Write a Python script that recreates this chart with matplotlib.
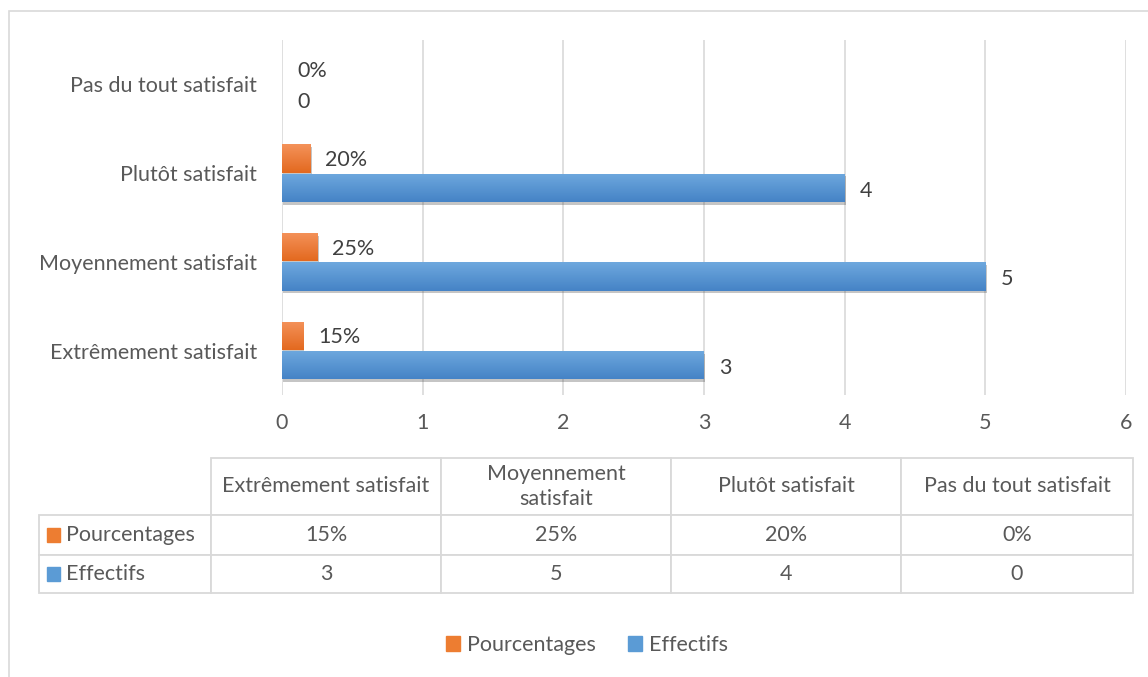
import numpy as np
import matplotlib
matplotlib.use("Agg")
import matplotlib.pyplot as plt
import matplotlib.patheffects as pe
from matplotlib.colors import LinearSegmentedColormap
from matplotlib.patches import Rectangle, Patch

# Données
categories = ["Extrêmement satisfait", "Moyennement satisfait", "Plutôt satisfait", "Pas du tout satisfait"]
entetes_table = ["Extrêmement satisfait", "Moyennement\nsatisfait", "Plutôt satisfait", "Pas du tout satisfait"]
effectifs = [3, 5, 4, 0]
pourcentages = [0.15, 0.25, 0.20, 0.0]
series = ["Pourcentages", "Effectifs"]
graduations = [0, 1, 2, 3, 4, 5, 6]

plt.rcParams["font.family"] = ["Lato", "DejaVu Sans"]
TAILLE = 15.5
GRIS_TEXTE = "#595959"
GRIS_LIGNE = "#D9D9D9"
BLEU = "#5B9BD5"
ORANGE = "#ED7D31"

W, H = 1148, 677
fig = plt.figure(figsize=(W / 100, H / 100), dpi=100)


def fig_box(x0, y0, x1, y1):
    # pixels (origine en haut à gauche) -> coordonnées figure
    return [x0 / W, 1 - y1 / H, (x1 - x0) / W, (y1 - y0) / H]


# cadre du graphique
fig.patches.append(Rectangle((9 / W, -0.05), 1.2, 1 - 11 / H + 0.05, transform=fig.transFigure,
                             fill=False, edgecolor=GRIS_LIGNE, linewidth=1.2))

ax = fig.add_axes(fig_box(282, 40, 1126, 395))
y = np.arange(len(categories))
h = 0.32
barres_eff = ax.barh(y - 0.165, effectifs, height=h, color=BLEU, zorder=2)
barres_pct = ax.barh(y + 0.165, pourcentages, height=h, color=ORANGE, zorder=2)


def degrade(barres, haut, bas):
    cmap = LinearSegmentedColormap.from_list("g", [haut, bas])
    grad = np.linspace(0, 1, 64).reshape(-1, 1)
    for b in barres:
        b.set_path_effects([pe.SimplePatchShadow(offset=(1, -2), alpha=0.3, shadow_rgbFace="#404040"),
                            pe.Normal()])
        if b.get_width() <= 0:
            b.set_visible(False)
            continue
        x0, y0 = b.get_x(), b.get_y()
        im = ax.imshow(grad, extent=[x0, x0 + b.get_width(), y0, y0 + b.get_height()],
                       aspect="auto", cmap=cmap, origin="upper", zorder=3)
        im.set_clip_path(b)


degrade(barres_eff, "#6EA8DE", "#4583C6")
degrade(barres_pct, "#F4925A", "#E3691F")

for b, v in zip(barres_eff, effectifs):
    ax.annotate(f"{v}", (b.get_width(), b.get_y() + b.get_height() / 2), xytext=(11, -2),
                textcoords="offset points", va="center", ha="left", fontsize=TAILLE, color="#404040")
for b, v in zip(barres_pct, pourcentages):
    ax.annotate(f"{v:.0%}", (b.get_width(), b.get_y() + b.get_height() / 2), xytext=(11, -1),
                textcoords="offset points", va="center", ha="left", fontsize=TAILLE, color="#404040")

ax.set_xlim(graduations[0], graduations[-1])
ax.set_ylim(-0.5, len(categories) - 0.5)
ax.set_xticks(graduations)
ax.set_yticks(y)
ax.set_yticklabels(categories)
ax.grid(axis="x", color=GRIS_LIGNE, linewidth=1.2, zorder=0)
ax.set_axisbelow(True)
ax.tick_params(length=0, labelcolor=GRIS_TEXTE, labelsize=TAILLE)
ax.tick_params(axis="x", pad=13)
ax.tick_params(axis="y", pad=18)
for s in ax.spines.values():
    s.set_visible(False)

# tableau de données
axt = fig.add_axes(fig_box(39, 458, 1133, 593))
axt.axis("off")
lignes = [[""] + entetes_table,
          [""] + [f"{v:.0%}" for v in pourcentages],
          [""] + [f"{v}" for v in effectifs]]
larg = np.array([172, 230, 230, 230, 232], float)
haut = np.array([57, 40, 38], float)
tab = axt.table(cellText=lignes, cellLoc="center", colWidths=list(larg / larg.sum()),
                bbox=[0, 0, 1, 1])
tab.auto_set_font_size(False)
for (r, c), cell in tab.get_celld().items():
    cell.set_height(haut[r] / haut.sum())
    cell.set_edgecolor(GRIS_LIGNE)
    cell.set_linewidth(1.3)
    cell.get_text().set_color(GRIS_TEXTE)
    cell.get_text().set_fontsize(TAILLE)
    cell.get_text().set_linespacing(1.35)
tab[0, 0].visible_edges = ""

# libellés de séries dans le tableau
for i, (nom, coul) in enumerate(zip(series, [ORANGE, BLEU])):
    yc = (38 + 20) / haut.sum() if i == 0 else 19 / haut.sum()
    axt.add_patch(Rectangle((8 / 1094, yc - 7 / 135), 13 / 1094, 14 / 135, color=coul,
                            transform=axt.transAxes, clip_on=False))
    axt.text(27 / 1094, yc, nom, transform=axt.transAxes, va="center", ha="left",
             fontsize=TAILLE, color=GRIS_TEXTE)

# légende
poignees = [Patch(color=ORANGE, label=series[0]), Patch(color=BLEU, label=series[1])]
fig.legend(handles=poignees, loc="center", bbox_to_anchor=(587 / W, 1 - 645 / H), ncol=2,
           frameon=False, fontsize=TAILLE, labelcolor=GRIS_TEXTE, handlelength=0.65, handleheight=0.65,
           handletextpad=0.3, columnspacing=1.5)

fig.savefig("out.png", dpi=100)
